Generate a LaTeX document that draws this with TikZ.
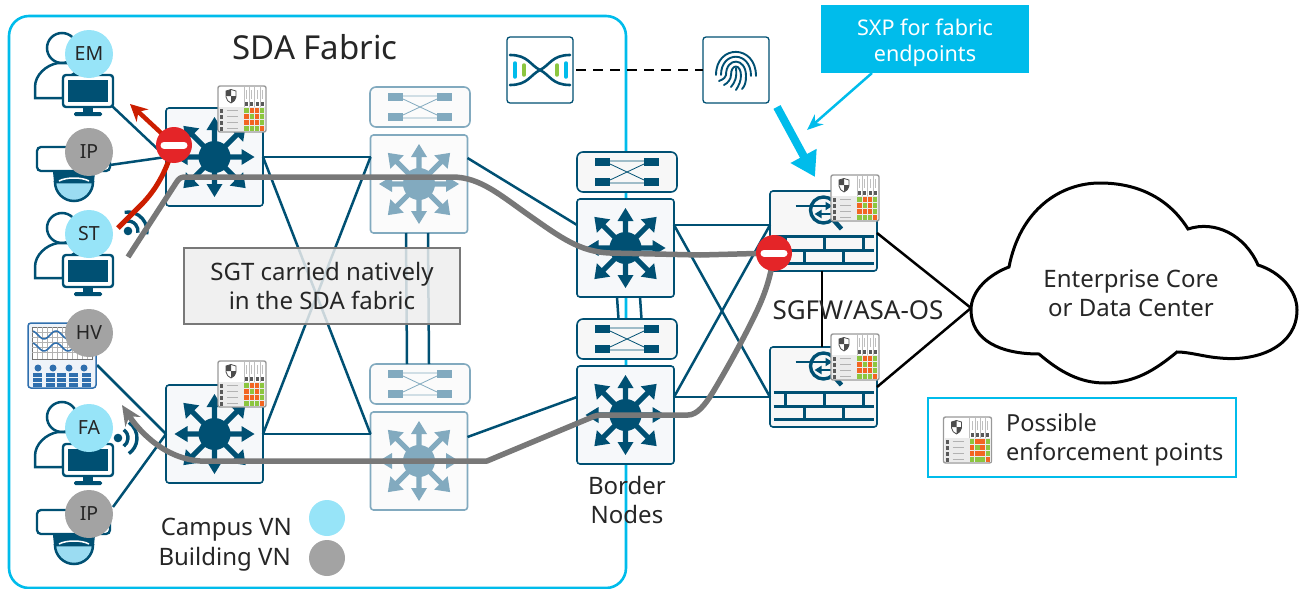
\documentclass[tikz,border=0pt]{standalone}
\usepackage{fontspec}
\setmainfont{Noto Sans}
\usetikzlibrary{positioning,arrows.meta}
\definecolor{fabcyan}{HTML}{00BCEB}
\definecolor{fabdark}{HTML}{005073}
\definecolor{fabpale}{HTML}{82AABF}
\definecolor{boxfill}{HTML}{F6F8FA}
\definecolor{palefill}{HTML}{FBFBFB}
\definecolor{campusc}{HTML}{97E4F8}
\definecolor{buildc}{HTML}{A3A3A3}
\definecolor{routec}{HTML}{787878}
\definecolor{denyc}{HTML}{E42528}
\definecolor{redc}{HTML}{CC1E00}
\definecolor{inkc}{HTML}{262626}
\definecolor{cellg}{HTML}{8CC63F}
\definecolor{cello}{HTML}{F26522}
\definecolor{hvc}{HTML}{2F6FAE}
\definecolor{domec}{HTML}{9BDCF2}
\tikzstyle{fabric}=[rectangle, rounded corners=20pt, draw=fabcyan, line width=2.6pt, minimum width=617pt, minimum height=572pt, outer sep=0pt]
\tikzstyle{l3box}=[rectangle, rounded corners=3pt, draw=fabdark, fill=boxfill, line width=1.6pt, minimum width=97pt, minimum height=98pt, inner sep=0pt, outer sep=0pt]
\tikzstyle{l3pale}=[l3box, draw=fabpale, fill=palefill]
\tikzstyle{l2box}=[l3box, rounded corners=6pt, fill=white!97!black, minimum width=100pt, minimum height=40pt]
\tikzstyle{l2pale}=[l2box, draw=fabpale, fill=palefill]
\tikzstyle{fwbox}=[l3box, fill=white!97!black, minimum width=107pt, minimum height=80pt]
\tikzstyle{svcbox}=[l3box, fill=white, line width=1.3pt, minimum width=66pt, minimum height=66pt]
\tikzstyle{wire}=[fabdark, line width=2.5pt]
\tikzstyle{fwwire}=[black, line width=2.5pt]
\tikzstyle{route}=[routec, line width=5.5pt, line join=round]
\tikzstyle{campus}=[circle, fill=campusc, text=inkc, minimum size=48pt, inner sep=0pt, font=\fontsize{19.5}{24}\selectfont]
\tikzstyle{building}=[campus, fill=buildc]
\tikzstyle{stopsign}=[circle, fill=denyc, minimum size=36pt, inner sep=0pt]
\tikzstyle{stopbar}=[white, line width=7pt, line cap=round]
\tikzstyle{lbl}=[text=inkc, align=center, inner sep=0pt, font=\fontsize{24}{29}\selectfont]
\tikzset{
  pics/l3arrows/.style={code={
    \fill[#1] (0,0) circle[radius=16];
    \foreach \a in {0,90,180,270}
      \fill[#1,rotate=\a] (0,-2.6) -- (27,-2.6) -- (27,-8) -- (40,0) -- (27,8) -- (27,2.6) -- (0,2.6) -- cycle;
    \foreach \a in {45,135,225,315}
      \fill[#1,rotate=\a] (0,-2.6) -- (31,-2.6) -- (31,-9.5) -- (44,0) -- (31,9.5) -- (31,2.6) -- (0,2.6) -- cycle;
  }},
  pics/l2arrows/.style={code={
    \foreach \sx in {-1,1} \foreach \sy in {-1,1}
      \fill[#1] (\sx*17,\sy*6) rectangle (\sx*32,\sy*14);
    \draw[#1, line width=0.8pt] (-17,-11) -- (17,-11) (-17,11) -- (17,11) (-17,-8) -- (17,8) (-17,8) -- (17,-8);
  }},
  pics/fwicon/.style={code={
    \draw[fabdark, line width=3.4pt] (0,-21) circle[radius=13];
    \draw[fabdark, line width=4.5pt] (10,-11) -- (18,-2);
    \draw[fabdark, line width=2.6pt, -{Triangle[length=7pt,width=8pt]}] (-28,-25) -- (9,-25);
    \draw[fabdark, line width=2.6pt, -{Triangle[length=7pt,width=8pt]}] (8,-17) -- (-9,-17);
    \draw[fabdark, line width=3pt] (-50,5) -- (50,5) (-50,19) -- (50,19) (-50,32) -- (50,32);
    \draw[fabdark, line width=3pt] (-38.5,5) -- (-38.5,19) (0.5,5) -- (0.5,19) (39.5,5) -- (39.5,19) (-19.5,19) -- (-19.5,32) (19.5,19) -- (19.5,32);
  }},
  pics/policy/.style={code={
    \draw[white!60!black, line width=1.4pt, fill=white, rounded corners=2pt] (0,0) rectangle (48,46);
    \fill[white!92!black] (1,21) rectangle (47,45);
    \foreach \x in {26,31.25,36.5,41.75} {
      \draw[white!75!black, line width=0.4pt] (\x,1) -- (\x,21);
      \draw[white!75!black, line width=0.9pt] (\x+2.6,4) -- (\x+2.6,13);
      \fill[white!35!black] (\x+1.2,16) rectangle (\x+4,19.5);
    }
    \foreach \x/\y/\c in {0/0/cellg,1/0/cello,2/0/cello,3/0/cellg,0/1/cello,1/1/cellg,2/1/cello,3/1/cellg,0/2/cello,1/2/cello,2/2/cello,3/2/cellg,0/3/cellg,1/3/cellg,2/3/cellg,3/3/cello}
      \fill[\c] (26.4+\x*5.2,22+\y*6) rectangle (30.8+\x*5.2,27.4+\y*6);
    \foreach \y in {0,1,2,3} {
      \fill[white!35!black] (2,23+\y*6) rectangle (5,26.5+\y*6);
      \draw[white!70!black, line width=0.9pt] (9,24.7+\y*6) -- (20,24.7+\y*6);
    }
    \draw[white!30!black, line width=0.8pt, fill=white] (8,5) -- (13,3.5) -- (18,5) -- (18,11) .. controls (18,14) and (15,16) .. (13,17) .. controls (11,16) and (8,14) .. (8,11) -- cycle;
    \fill[white!30!black] (13,3.5) -- (8,5) -- (8,10) -- (13,10) -- cycle (13,10) -- (18,10) .. controls (18,14) and (15,16) .. (13,17) -- cycle;
  }},
  pics/person/.style={code={
    \draw[fabdark, line width=2.5pt] (-26,-43) circle[radius=15];
    \draw[fabdark, line width=2.5pt, fill=white] (-25,7) -- (-53,7) -- (-53,-4) .. controls (-53,-16) and (-42,-26) .. (-30,-28) -- (-20,-28) -- (-10,-20) -- (-25,-10) -- cycle;
    \draw[fabdark, line width=2.4pt, fill=white, rounded corners=3pt] (-25,-16) rectangle (25,16);
    \fill[fabdark] (-20,-11) rectangle (20,11);
    \fill[fabdark] (-5,16) rectangle (5,21);
    \fill[fabdark, rounded corners=1.5pt] (-14,21) rectangle (14,25);
  }},
  pics/dome/.style={code={
    \draw[fabdark, line width=2.3pt, fill=white, rounded corners=4pt] (-37,-25) rectangle (36,-1);
    \fill[fabdark] (-21,0) -- (21,0) -- (20,10) -- (-20,10) -- cycle;
    \draw[fabdark, line width=2.5pt, fill=domec] (-19,10) arc[start angle=180, end angle=0, radius=19] -- cycle;
    \draw[white, line width=1.5pt] (-15,9) .. controls (-8,5) and (8,5) .. (15,9);
  }},
  pics/hvicon/.style={code={
    \draw[hvc, line width=1.5pt, fill=hvc!8, rounded corners=3pt] (-34,-34) rectangle (34,31);
    \draw[black!55, line width=0.8pt, fill=white] (-30,-30) rectangle (30,2);
    \foreach \x in {-25,-20,...,25} \draw[black!30, line width=0.4pt] (\x,-30) -- (\x,2);
    \foreach \y in {-25,-20,...,-5} \draw[black!30, line width=0.4pt] (-30,\y) -- (30,\y);
    \draw[hvc, line width=1.5pt] plot[domain=-29:12, samples=40, smooth] (\x,{-22+4*sin(\x*15)});
    \draw[hvc, line width=1.5pt] plot[domain=-29:12, samples=40, smooth] (\x,{-10+4*sin(\x*15)});
    \foreach \x in {-24,-9,7,22} \fill[hvc] (\x,11) circle[radius=3.5];
    \foreach \x in {-29,-16,-5,7,20} \fill[hvc] (\x,16) rectangle (\x+9,30);
    \foreach \y in {20.5,25} \draw[hvc!8, line width=0.8pt] (-30,\y) -- (30,\y);
  }},
  pics/wifi/.style={code={
    \fill[fabdark] (0,0) circle[radius=4.3];
    \draw[fabdark, line width=3.4pt] (#1-55:10) arc[start angle=#1-55, end angle=#1+55, radius=10];
    \draw[fabdark, line width=3.4pt] (#1-55:19) arc[start angle=#1-55, end angle=#1+55, radius=19];
  }},
  pics/dna/.style={code={
    \draw[fabdark, line width=2.6pt, line cap=round] (-30,-15) .. controls (-12,-15) and (-10,-5) .. (0,0) .. controls (10,5) and (12,15) .. (30,15);
    \draw[fabdark, line width=2.6pt, line cap=round] (-30,15) .. controls (-12,15) and (-10,5) .. (0,0) .. controls (10,-5) and (12,-15) .. (30,-15);
    \draw[fabcyan, line width=3.5pt, line cap=round] (-25,-7) -- (-25,7) (26,-7) -- (26,7);
    \draw[cellg, line width=3.5pt, line cap=round] (-16,-5) -- (-16,5) (17,-5) -- (17,5);
  }},
  pics/finger/.style={code={
    \foreach \r in {5,10,15,20}
      \draw[fabdark, line width=1.9pt, line cap=round] (\r*-1,5) .. controls (\r*-1,\r*-1.3) and (\r,\r*-1.3) .. (\r,6);
    \draw[fabdark, line width=1.9pt, line cap=round] (0,-2) .. controls (1,8) and (-1,12) .. (-5,17) (-5,5) .. controls (-5,9) and (-8,13) .. (-12,15) (5,5) .. controls (5,11) and (3,15) .. (0,20) (10,6) .. controls (10,12) and (9,16) .. (6,19) (-10,5) .. controls (-10,7) and (-12,9) .. (-17,11);
  }},
}
\begin{document}
\begin{tikzpicture}[x=1pt, y=-1pt]
  \useasboundingbox (0,0) rectangle (1299,589);
  % Fabric
  \node[fabric] (fabric) at (317.5,302) {};
  \node[lbl, font=\fontsize{33}{36}\selectfont] (fabtitle) at (315,47) {SDA Fabric};

  % Switches
  \node[l3box] (acctop) at (214.5,157) {};
  \node[l3box] (accbot) at (214.5,434) {};
  \node[l3pale] (disttop) at (419,184) {};
  \node[l3pale] (distbot) at (419,461) {};
  \node[l3box] (bordertop) at (625.5,248) {};
  \node[l3box] (borderbot) at (625.5,415) {};
  \node[l2pale, above=8pt of disttop, xshift=1pt] (l2disttop) {};
  \node[l2pale, above=8pt of distbot, xshift=1pt] (l2distbot) {};
  \node[l2box, above=7pt of bordertop, xshift=1.5pt] (l2bordertop) {};
  \node[l2box, above=7pt of borderbot, xshift=1.5pt] (l2borderbot) {};
  \node[fwbox] (fwtop) at (823.5,231) {};
  \node[fwbox] (fwbot) at (823.5,387) {};
  \node[svcbox] (ise) at (540,70) {};
  \node[svcbox] (auth) at (736,70) {};

  % Cloud
  \draw[black, line width=3pt, fill=white] (1009,267) .. controls (1020,210) and (1060,183) .. (1100,183) .. controls (1140,183) and (1170,200) .. (1188,229) .. controls (1215,220) and (1245,235) .. (1258,265) .. controls (1280,272) and (1297,290) .. (1297,310) .. controls (1297,345) and (1260,362) .. (1220,358) .. controls (1205,357) and (1190,352) .. (1177,352) .. controls (1155,370) and (1135,383) .. (1105,383) .. controls (1080,383) and (1060,372) .. (1039,354) .. controls (1000,354) and (971,340) .. (971,310) .. controls (971,290) and (990,274) .. (1009,267) -- cycle;
  \coordinate (cloudw) at (971,308);
  \node[lbl] (cloudtxt) at (1131,293) {Enterprise Core\\or Data Center};

  % Wires
  \draw[wire] (acctop.east) -- (disttop.west |- acctop.east);
  \draw[wire] (accbot.east) -- (distbot.west |- accbot.east);
  \draw[wire] (acctop.east) -- (distbot.west |- accbot.east);
  \draw[wire] (accbot.east) -- (disttop.west |- acctop.east);
  \draw[wire] ([yshift=26pt]disttop.east) -- ([yshift=23pt]bordertop.west);
  \draw[wire] ([yshift=24pt]distbot.east) -- ([yshift=18pt]borderbot.west);
  \foreach \s in {-13,9}
    \draw[wire] ([xshift=\s pt]disttop.south) -- ([xshift=\s pt]l2distbot.north);
  \foreach \s in {-8.5,14.5}
    \draw[wire] ([xshift=\s pt]bordertop.south) -- ([xshift=\s pt]l2borderbot.north);
  \draw[wire] ([yshift=23pt]bordertop.east) -- ([yshift=6pt]fwtop.west);
  \draw[wire] ([yshift=18pt]borderbot.east) -- ([yshift=-10pt]fwbot.west);
  \draw[wire] ([yshift=23pt]bordertop.east) -- ([yshift=-10pt]fwbot.west);
  \draw[wire] ([yshift=18pt]borderbot.east) -- ([yshift=6pt]fwtop.west);
  \draw[fwwire] ([yshift=-2pt]fwtop.east) -- (cloudw);
  \draw[fwwire] (fwbot.east) -- (cloudw);
  \draw[fwwire] ([xshift=-1.5pt]fwtop.south) -- ([xshift=-1.5pt]fwbot.north);
  \draw[black, line width=2.5pt, dash pattern=on 10pt off 7pt] (ise.east) ++(3,0) -- (auth.west);

  % Endpoints
  \coordinate (empc) at (112,106);
  \coordinate (camtop) at (110,165);
  \coordinate (hvout) at (97,365);
  \coordinate (cambot) at (113,507);
  \draw[wire] (empc) -- (acctop.west);
  \draw[wire] (camtop) -- (acctop.west);
  \draw[wire] (hvout) -- (accbot.west);
  \draw[wire] (cambot) -- (accbot.west);
  \pic at (88,91) {person};
  \pic at (74,172) {dome};
  \pic at (88,271) {person};
  \pic at (62,357) {hvicon};
  \pic at (88,460) {person};
  \pic at (74,535) {dome};
  \pic at (128,231) {wifi=-45};
  \pic at (118,438) {wifi=0};
  \node[campus] (em) at (89,54) {EM};
  \node[building] (iptop) at (89,152) {IP};
  \node[campus] (st) at (89,234) {ST};
  \node[building] (hv) at (89,333) {HV};
  \node[campus] (fa) at (89,428) {FA};
  \node[building] (ipbot) at (89,514) {IP};

  % Icons
  \pic at (acctop) {l3arrows=fabdark};
  \pic at (accbot) {l3arrows=fabdark};
  \pic at (disttop) {l3arrows=fabpale};
  \pic at (distbot) {l3arrows=fabpale};
  \pic at (bordertop) {l3arrows=fabdark};
  \pic at (borderbot) {l3arrows=fabdark};
  \pic at (l2disttop) {l2arrows=fabpale};
  \pic at (l2distbot) {l2arrows=fabpale};
  \pic at (l2bordertop) {l2arrows=fabdark};
  \pic at (l2borderbot) {l2arrows=fabdark};
  \pic at (fwtop) {fwicon};
  \pic at (fwbot) {fwicon};
  \pic at (ise) {dna};
  \pic at (auth) {finger};
  \pic at (218,86) {policy};
  \pic at (218,361) {policy};
  \pic at (831,175) {policy};
  \pic at (831,334) {policy};

  % Box and labels
  \node[rectangle, draw=routec, fill=white!93!black, fill opacity=0.85, text opacity=1, line width=2.5pt, minimum width=276pt, minimum height=76pt, lbl] (sgt) at (322,286) {SGT carried natively\\in the SDA fabric};
  \node[lbl, below=12pt of borderbot, xshift=1.5pt] (bordertxt) {Border\\Nodes};
  \node[lbl, font=\fontsize{26}{29}\selectfont] (fwtxt) at (858,310) {SGFW/ASA-OS};
  \node[lbl, anchor=east] (campustxt) at (292,530) {Campus VN};
  \node[lbl, anchor=east] (buildtxt) at (291,559) {Building VN};
  \node[campus, minimum size=36pt] (campusdot) at (327,518) {};
  \node[building, minimum size=36pt] (builddot) at (327,558) {};

  % Legend
  \node[rectangle, draw=fabcyan, line width=2.6pt, minimum width=308pt, minimum height=79pt] (legend) at (1082,437.5) {};
  \pic at (943.5,417) {policy};
  \node[lbl, anchor=west, align=left, font=\fontsize{23.5}{29}\selectfont] (legendtxt) at (1006,440) {Possible\\enforcement points};

  % SXP
  \node[rectangle, fill=fabcyan, minimum width=208pt, minimum height=68pt] (sxp) at (925,39) {};
  \node[lbl, text=white, font=\fontsize{21.6}{26}\selectfont] (sxptxt) at (925,43) {SXP for fabric\\endpoints};
  \coordinate (sxptail) at (872,73);
  \coordinate (sxptip) at (807,130);
  \coordinate (pushtail) at (777,107);
  \coordinate (pushtip) at (815,177);
  \draw[fabcyan, line width=2.5pt, -{Stealth[length=16pt,width=13pt]}] (sxptail) -- (sxptip);
  \draw[fabcyan, line width=8pt, -{Triangle[length=24pt,width=28pt]}] (pushtail) -- (pushtip);

  % Routes
  \coordinate (denyacc) at (174,145);
  \coordinate (denyfw) at (774,253);
  \coordinate (routea) at (128,257);
  \coordinate (routeb) at (122,405);
  \coordinate (reda) at (118,228);
  \coordinate (redb) at (130,104);
  \draw[route] (routea) -- (176,183) .. controls (179,178) and (181,177) .. (186,177) -- (452,177) .. controls (480,177) and (500,195) .. (530,216) .. controls (560,237) and (580,252) .. (610,253) -- (700,255) -- (denyfw);
  \draw[route, {Stealth[length=20pt,width=18pt]}-] (routeb) .. controls (135,425) and (160,458) .. (200,461) -- (487,461) -- (590,418) .. controls (596,415) and (600,415) .. (607,415) -- (688,415) .. controls (697,415) and (705,405) .. (713,392) .. controls (725,372) and (740,345) .. (750,325) .. controls (760,305) and (770,285) .. (denyfw);
  \draw[redc, line width=5pt] (reda) -- (143,203) .. controls (155,190) and (165,175) .. (denyacc);
  \draw[redc, line width=4.5pt, -{Stealth[length=17pt,width=17pt]}] (denyacc) -- (redb);
  \node[stopsign] (stopacc) at (denyacc) {};
  \node[stopsign] (stopfw) at (denyfw) {};
  \draw[stopbar] ([xshift=-10pt]stopacc.center) -- ([xshift=10pt]stopacc.center);
  \draw[stopbar] ([xshift=-10pt]stopfw.center) -- ([xshift=10pt]stopfw.center);
\end{tikzpicture}
\end{document}
